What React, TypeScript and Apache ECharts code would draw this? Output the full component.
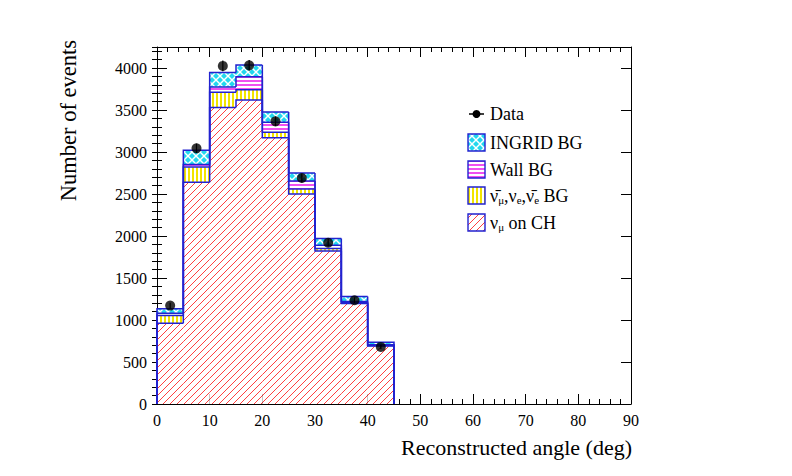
import { useEffect, useRef } from 'react';
import * as echarts from 'echarts';

const binEdges = [0, 5, 10, 15, 20, 25, 30, 35, 40, 45];
const numuOnCH = [960, 2640, 3530, 3620, 3170, 2500, 1820, 1195, 690];
const antiNuBG = [95, 180, 180, 120, 65, 60, 30, 10, 5];
const wallBG = [25, 30, 65, 155, 120, 95, 40, 15, 10];
const ingridBG = [55, 170, 170, 140, 120, 95, 80, 60, 30];
const dataCounts = [1172, 3044, 4025, 4032, 3365, 2690, 1920, 1235, 680];

const FONT = '"Liberation Serif", "Times New Roman", serif';
const BLUE = '#2222d0';

type Drawer = (ctx: CanvasRenderingContext2D, w: number, h: number) => void;
function makePattern(w: number, h: number, draw: Drawer) {
  const c = document.createElement('canvas');
  c.width = w;
  c.height = h;
  const ctx = c.getContext('2d') as CanvasRenderingContext2D;
  draw(ctx, w, h);
  return { image: c.toDataURL(), repeat: 'repeat', imageWidth: w, imageHeight: h } as any;
}

export default function App() {
  const ref = useRef<HTMLDivElement>(null);
  useEffect(() => {
    if (!ref.current) return;
    const chart = echarts.init(ref.current, null, { renderer: 'svg' });

    const redPat = makePattern(7, 7, (ctx, w, h) => {
      ctx.fillStyle = '#ffffff';
      ctx.fillRect(0, 0, w, h);
      ctx.strokeStyle = '#ff4040';
      ctx.lineWidth = 1;
      for (const k of [-w, 0, w]) {
        ctx.beginPath();
        ctx.moveTo(k, h);
        ctx.lineTo(k + w, 0);
        ctx.stroke();
      }
    });
    const yellowPat = makePattern(4, 4, (ctx, w, h) => {
      ctx.fillStyle = '#ffffff';
      ctx.fillRect(0, 0, w, h);
      ctx.fillStyle = '#f2e400';
      ctx.fillRect(0, 0, 2, h);
    });
    const magentaPat = makePattern(4, 4, (ctx, w, h) => {
      ctx.fillStyle = '#ffffff';
      ctx.fillRect(0, 0, w, h);
      ctx.fillStyle = '#f050f0';
      ctx.fillRect(0, 0, w, 2);
    });
    const cyanPat = makePattern(8, 8, (ctx, w, h) => {
      ctx.fillStyle = '#22d8ee';
      ctx.fillRect(0, 0, w, h);
      ctx.strokeStyle = '#ffffff';
      ctx.lineWidth = 1.4;
      for (const k of [-w, 0, w]) {
        ctx.beginPath();
        ctx.moveTo(k, h);
        ctx.lineTo(k + w, 0);
        ctx.stroke();
        ctx.beginPath();
        ctx.moveTo(k, 0);
        ctx.lineTo(k + w, h);
        ctx.stroke();
      }
    });

    const layers = [
      { name: 'numu on CH', values: numuOnCH, fill: redPat },
      { name: 'anti-nu BG', values: antiNuBG, fill: yellowPat },
      { name: 'Wall BG', values: wallBG, fill: magentaPat },
      { name: 'INGRID BG', values: ingridBG, fill: cyanPat },
    ];
    const base = numuOnCH.map(() => 0);
    const fillSeries: any[] = [];
    const outlineSeries: any[] = [];
    layers.forEach((layer) => {
      const data = layer.values.map((v, j) => {
        const item = [binEdges[j], binEdges[j + 1], base[j], base[j] + v];
        base[j] += v;
        return item;
      });
      const tops = base.slice();
      fillSeries.push({
        type: 'custom',
        name: layer.name,
        encode: { x: [0, 1], y: [2, 3] },
        data,
        z: 2,
        renderItem: (_p: any, api: any) => {
          const p0 = api.coord([api.value(0), api.value(2)]);
          const p1 = api.coord([api.value(1), api.value(3)]);
          return {
            type: 'rect',
            shape: { x: p0[0], y: p1[1], width: p1[0] - p0[0], height: p0[1] - p1[1] },
            style: { fill: layer.fill, stroke: null },
          };
        },
      });
      const outline = tops.map((t, j) => [
        binEdges[j],
        binEdges[j + 1],
        t,
        j === 0 ? 0 : tops[j - 1],
        j === tops.length - 1 ? 0 : t,
      ]);
      outlineSeries.push({
        type: 'custom',
        name: layer.name + ' outline',
        encode: { x: [0, 1], y: [2, 3, 4] },
        data: outline,
        z: 3,
        renderItem: (_p: any, api: any) => {
          const a = api.coord([api.value(0), api.value(3)]);
          const b = api.coord([api.value(0), api.value(2)]);
          const c = api.coord([api.value(1), api.value(2)]);
          const d = api.coord([api.value(1), api.value(4)]);
          return {
            type: 'polyline',
            shape: { points: [a, b, c, d] },
            style: { fill: null, stroke: BLUE, lineWidth: 1.5 },
          };
        },
      });
    });

    const centers = dataCounts.map((_, j) => (binEdges[j] + binEdges[j + 1]) / 2);
    const errorSeries = {
      type: 'custom',
      name: 'errors',
      encode: { x: 0, y: [1, 2] },
      data: dataCounts.map((v, j) => [centers[j], v - Math.sqrt(v), v + Math.sqrt(v)]),
      renderItem: (_p: any, api: any) => {
        const a = api.coord([api.value(0), api.value(1)]);
        const b = api.coord([api.value(0), api.value(2)]);
        return {
          type: 'line',
          shape: { x1: a[0], y1: a[1], x2: b[0], y2: b[1] },
          style: { stroke: '#000', lineWidth: 1.2 },
        };
      },
      z: 5,
    };
    const dataSeries = {
      type: 'scatter',
      name: 'Data',
      data: dataCounts.map((v, j) => [centers[j], v]),
      symbol: 'circle',
      symbolSize: 10,
      itemStyle: { color: '#000' },
      z: 6,
    };

    const tickStyle = { color: '#000', width: 1 };
    const legendX = 468;
    const boxW = 17;
    const boxH = 17;
    const LF = 18;
    const legendRows = [
      { y: 134, fill: cyanPat, text: 'INGRID BG', rich: false },
      { y: 161, fill: magentaPat, text: 'Wall BG', rich: false },
      { y: 187, fill: yellowPat, text: '{a|ν̄}{b|μ}{a|,ν}{b|e}{a|,ν̄}{b|e}{a| BG}', rich: true },
      { y: 214, fill: redPat, text: '{a|ν}{b|μ}{a| on CH}', rich: true },
    ];
    const richStyles = {
      a: { fontSize: LF, fontFamily: FONT, color: '#000', lineHeight: 20, verticalAlign: 'middle' },
      b: { fontSize: 11, fontFamily: FONT, color: '#000', lineHeight: 11, padding: [8, 0, 0, 0], verticalAlign: 'middle' },
    };
    const txt = (extra: any) => ({
      font: `${LF}px ${FONT}`, fill: '#000', textAlign: 'left', textVerticalAlign: 'middle', align: 'left', verticalAlign: 'middle', ...extra,
    });
    const graphics: any[] = [
      { type: 'line', shape: { x1: 469, y1: 114, x2: 484, y2: 114 }, style: { stroke: '#000', lineWidth: 1.5 } },
      { type: 'circle', shape: { cx: 476.5, cy: 114, r: 4 }, style: { fill: '#000' } },
      { type: 'text', x: 490, y: 114, style: txt({ text: 'Data' }) },
    ];
    legendRows.forEach((r) => {
      graphics.push({
        type: 'rect',
        shape: { x: legendX, y: r.y, width: boxW, height: boxH },
        style: { fill: r.fill, stroke: BLUE, lineWidth: 1.4 },
      });
      graphics.push({
        type: 'text', x: 490, y: r.y + boxH / 2,
        style: r.rich ? txt({ text: r.text, rich: richStyles }) : txt({ text: r.text }),
      });
    });
    graphics.push({
      type: 'text', x: 632, y: 447,
      style: { text: 'Reconstructed angle (deg)', font: `22px ${FONT}`, fill: '#000', textAlign: 'right', textVerticalAlign: 'middle', align: 'right', verticalAlign: 'middle' },
    });
    graphics.push({
      type: 'text', x: 68, y: 40, rotation: Math.PI / 2,
      style: { text: 'Number of events', font: `22.5px ${FONT}`, fill: '#000', textAlign: 'right', textVerticalAlign: 'middle', align: 'right', verticalAlign: 'middle' },
    });

    const xCommon = {
      type: 'value', min: 0, max: 90, interval: 10,
      splitLine: { show: false },
      axisLine: { show: true, onZero: false, lineStyle: { color: '#000', width: 1 } },
      axisTick: { show: true, inside: true, length: 10, lineStyle: tickStyle },
      minorTick: { show: true, splitNumber: 5, length: 5, lineStyle: tickStyle },
      minorSplitLine: { show: false },
    };
    const yMajor = {
      type: 'value', min: 0, max: 4250, interval: 500,
      splitLine: { show: false },
      axisLine: { show: true, onZero: false, lineStyle: { color: '#000', width: 1 } },
      axisTick: { show: true, inside: true, length: 10, lineStyle: tickStyle },
    };
    const yMinor = {
      type: 'value', min: 0, max: 4250, interval: 100,
      splitLine: { show: false },
      axisLine: { show: false },
      axisLabel: { show: false },
      axisTick: { show: true, inside: true, length: 5, lineStyle: tickStyle },
    };

    chart.setOption({
      animation: false,
      backgroundColor: '#ffffff',
      grid: { left: 157, top: 47, width: 474, height: 357 },
      xAxis: [
        {
          ...xCommon, position: 'bottom',
          axisLabel: { show: true, color: '#000', fontSize: 16, fontFamily: FONT, margin: 8, formatter: (v: number) => String(v) },
        },
        { ...xCommon, position: 'top', axisLabel: { show: false } },
      ],
      yAxis: [
        {
          ...yMajor, position: 'left',
          axisLabel: { show: true, color: '#000', fontSize: 16, fontFamily: FONT, margin: 10, showMaxLabel: false, formatter: (v: number) => String(v) },
        },
        { ...yMinor, position: 'left' },
        { ...yMajor, position: 'right', axisLabel: { show: false } },
        { ...yMinor, position: 'right' },
      ],
      series: [...fillSeries, ...outlineSeries, errorSeries, dataSeries],
      graphic: graphics,
    } as any);

    return () => chart.dispose();
  }, []);

  return (
    <div
      ref={ref}
      style={{ position: 'fixed', left: 0, top: 0, width: 792, height: 476, background: '#fff' }}
    />
  );
}
